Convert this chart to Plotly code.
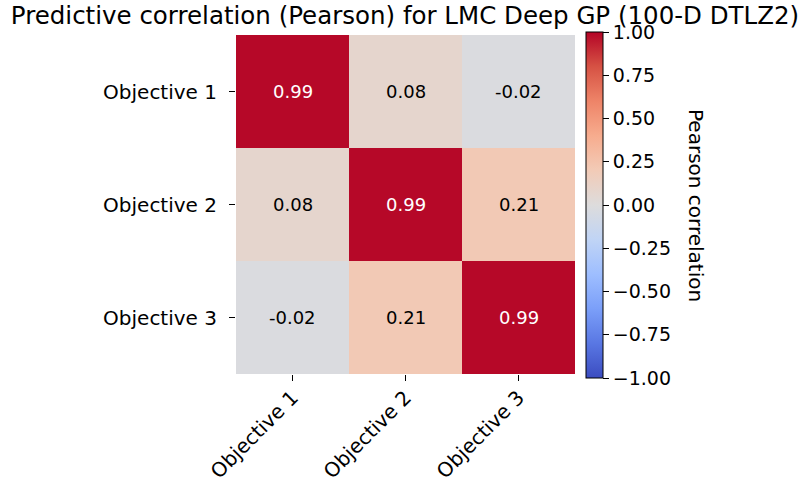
import plotly.graph_objects as go

objectives = ["Objective 1", "Objective 2", "Objective 3"]
corr = [
    [0.99, 0.08, -0.02],
    [0.08, 0.99, 0.21],
    [-0.02, 0.21, 0.99],
]
cbar_ticks = [-1.0, -0.75, -0.5, -0.25, 0.0, 0.25, 0.5, 0.75, 1.0]

coolwarm = [
    [0.0, "#3b4cc0"], [0.1, "#5977e3"], [0.2, "#7b9ff9"], [0.3, "#9ebeff"],
    [0.4, "#c0d4f5"], [0.5, "#dddcdc"], [0.6, "#f2cbb7"], [0.7, "#f7ac8e"],
    [0.8, "#ee8468"], [0.9, "#d65244"], [1.0, "#b40426"],
]

FONT = "DejaVu Sans"

W, H = 801, 482
L, R, T, B = 236, W - 575, 35, H - 374
PW, PH = W - L - R, H - T - B

fig = go.Figure(go.Heatmap(
    z=corr, x=objectives, y=objectives,
    colorscale=coolwarm, zmin=-1, zmax=1,
    colorbar=dict(
        x=(586 - L) / PW, xanchor="left", xref="paper", xpad=0, ypad=0,
        y=(H - B - 205) / PH, yanchor="middle", len=346, lenmode="pixels",
        thickness=17, outlinecolor="black", outlinewidth=1,
        tickvals=cbar_ticks, tickformat=".2f",
        ticks="outside", ticklen=6, tickcolor="black", tickwidth=1,
        tickfont=dict(family=FONT, size=19, color="black"),
    ),
    hoverinfo="skip",
))

annotations = []
for i, row in enumerate(objectives):
    for j, col in enumerate(objectives):
        v = corr[i][j]
        annotations.append(dict(
            x=col, y=row, xref="x", yref="y", text=f"{v:.2f}", showarrow=False,
            font=dict(family=FONT, size=18, color="white" if abs(v) > 0.6 else "black"),
        ))
annotations.append(dict(
    x=(710 - L) / PW, y=(H - B - 205) / PH, xref="paper", yref="paper",
    text="Pearson correlation", showarrow=False, textangle=90,
    font=dict(family=FONT, size=20, color="black"),
))

fig.update_layout(
    width=W, height=H,
    margin=dict(l=L, r=R, t=T, b=B, autoexpand=False),
    paper_bgcolor="white", plot_bgcolor="white",
    title=dict(text="Predictive correlation (Pearson) for LMC Deep GP (100-D DTLZ2)",
               x=405 / W, xref="container", xanchor="center",
               y=1 - 15 / H, yref="container", yanchor="middle",
               font=dict(family=FONT, size=24.5, color="black")),
    xaxis=dict(tickangle=-45, ticks="outside", ticklen=6, tickcolor="black",
               ticklabelstandoff=-3,
               tickfont=dict(family=FONT, size=20, color="black"),
               showgrid=False, zeroline=False, showline=False),
    yaxis=dict(autorange="reversed", ticks="outside", ticklen=6, tickcolor="black",
               ticklabelstandoff=8,
               tickfont=dict(family=FONT, size=20, color="black"),
               showgrid=False, zeroline=False, showline=False),
    annotations=annotations,
)

fig.write_html("out.html", config={"displayModeBar": False},
               post_script="document.body.style.margin='0px';")
